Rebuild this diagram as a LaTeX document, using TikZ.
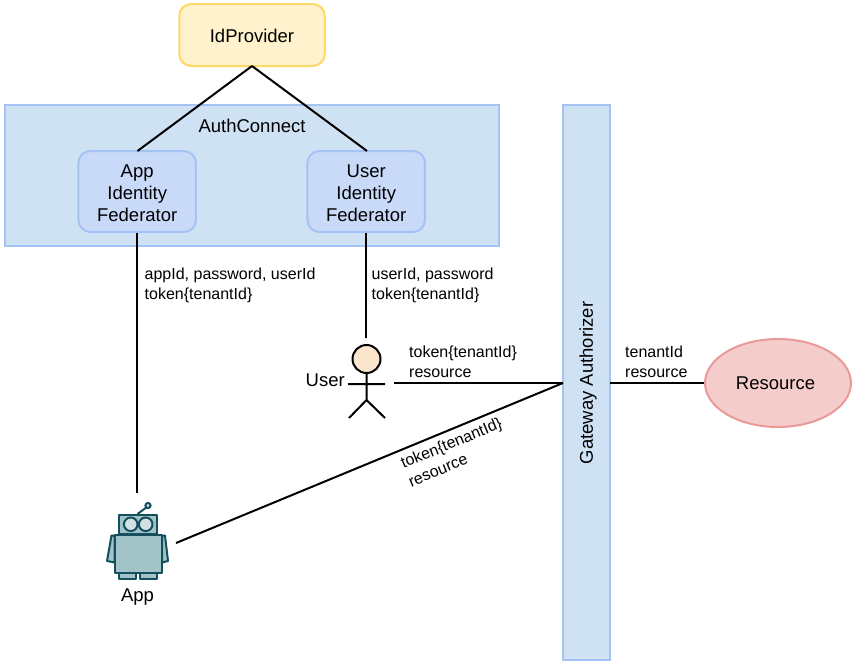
\documentclass[tikz,border=0pt]{standalone}
\usepackage{fontspec}
\setmainfont{Liberation Sans}
\usetikzlibrary{shapes.geometric}
\definecolor{rect}{HTML}{CFE2F3}
\definecolor{rectb}{HTML}{A4C2F4}
\definecolor{fed}{HTML}{C9DAF8}
\definecolor{yel}{HTML}{FFF2CC}
\definecolor{yelb}{HTML}{FFD966}
\definecolor{redf}{HTML}{F4CCCC}
\definecolor{redb}{HTML}{EA9999}
\definecolor{skin}{HTML}{FCE5CD}
\definecolor{rob}{HTML}{A2C4C9}
\definecolor{robd}{HTML}{134F5C}
\definecolor{robl}{HTML}{D0E0E3}
\tikzset{
  box/.style={draw=rectb,fill=rect,line width=2pt,minimum width=#1,inner sep=0pt,align=center},
  fedbox/.style={draw=rectb,fill=fed,line width=2pt,rounded corners=12pt,minimum width=117.5pt,minimum height=81pt,inner sep=0pt,align=center,font=\fontsize{18.5}{22}\selectfont},
  big/.style={font=\fontsize{18.5}{22}\selectfont,inner sep=0pt},
  small/.style={font=\fontsize{16}{20}\selectfont,inner sep=0pt,align=left},
  link/.style={draw=black,line width=2pt},
  robo/.style={draw=robd,line width=2pt,line join=round},
}
\begin{document}
\begin{tikzpicture}[x=1pt,y=-1pt]
\useasboundingbox (0,0) rectangle (856,665);
\node[box=494.5pt,minimum height=141pt] (auth) at (251.8,175.5) {};
\node[big] (authlabel) at (252,126) {AuthConnect};
\node[draw=yelb,fill=yel,line width=2pt,rounded corners=12pt,minimum width=145.5pt,minimum height=62pt,inner sep=0pt,big] (idp) at (252,35) {\raisebox{-1.3pt}[\height][\depth]{IdProvider}};
\node[fedbox] (appfed) at (137.2,191.5) {\raisebox{-4pt}[\height][\depth]{\begin{tabular}{@{}c@{}}App\\Identity\\Federator\end{tabular}}};
\node[fedbox] (userfed) at (366.2,191.5) {\raisebox{-4pt}[\height][\depth]{\begin{tabular}{@{}c@{}}User\\Identity\\Federator\end{tabular}}};
\node[box=47pt,minimum height=555pt] (gw) at (586.5,382.5) {};
\node[big,rotate=90] (gwlabel) at (588,383) {Gateway Authorizer};
\node[ellipse,draw=redb,fill=redf,line width=2pt,minimum width=146pt,minimum height=88pt,inner sep=0pt,big] (res) at (778,383) {\hspace*{-5pt}Resource};
% actors
\coordinate (appanchor) at (137.2,493);
\coordinate (appright) at (176,543);
\coordinate (userhead) at (366.2,338);
\coordinate (userright) at (394,383);
\coordinate (gwa) at (563,383);
\coordinate (gwb) at (610,383);
\coordinate (idb) at (252,66);
% robot
\draw[robo,fill=rob] (114.5,535.5) -- (111.5,535.5) -- (107,561) -- (114.5,562.5) -- cycle;
\draw[robo,fill=rob] (162,535.5) -- (165,535.5) -- (168,561) -- (162,562.5) -- cycle;
\draw[robo,fill=rob] (119,572.5) rectangle (135.5,578.5);
\draw[robo,fill=rob] (140,572.5) rectangle (156.5,578.5);
\draw[robo] (137.5,514) -- (147,507);
\draw[robo,fill=robl] (148,505.5) circle (2.6);
\draw[robo,fill=rob] (119,514.5) rectangle (156.5,534);
\draw[robo,fill=robl] (130.7,524.3) circle (6.8);
\draw[robo,fill=robl] (145.7,524.3) circle (6.8);
\draw[robo,fill=rob] (114.5,534.5) rectangle (162,572.5);
\node[big] (applabel) at (137.5,597) {App};
% user
\draw[line width=2pt,fill=skin] (366.5,359) circle (14);
\draw[line width=2pt] (366.5,373) -- (366.5,400) (348,384) -- (385,384) (349,418) -- (366.5,400) -- (385,418);
\node[big,anchor=east] (userlabel) at (345,380) {User};
% connectors
\draw[link] (idb) -- (137.5,151);
\draw[link] (idb) -- (367,151);
\draw[link] (appfed.south) -- (appanchor);
\draw[link] (userfed.south) -- (userhead);
\draw[link] (userright) -- (gwa);
\draw[link] (appright) -- (gwa);
\draw[link] (gwb) -- (res.west);
% labels
\node[small,anchor=west] (l1) at (144.5,285.5) {appId, password, userId\\token\{tenantId\}};
\node[small,anchor=west] (l2) at (371.5,285.5) {userId, password\\token\{tenantId\}};
\node[small,anchor=west] (l3) at (409,361.5) {token\{tenantId\}\\resource};
\node[small,anchor=west] (l4) at (625,361.5) {tenantId\\resource};
\node[small,rotate=22.5] (l5) at (455,452) {token\{tenantId\}\\resource};
\end{tikzpicture}
\end{document}
